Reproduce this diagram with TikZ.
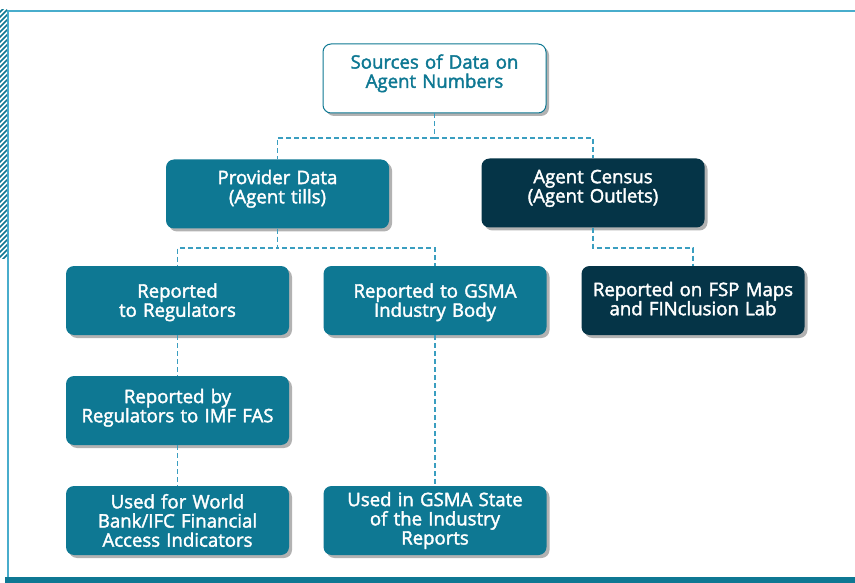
\documentclass[tikz,border=0pt]{standalone}
\usepackage{fontspec}
\setmainfont{Open Sans}[FakeBold=2]
\usetikzlibrary{shadows}
\definecolor{tealbox}{HTML}{0E7893}
\definecolor{navybox}{HTML}{053447}
\definecolor{linkblue}{HTML}{3A9EC0}
\definecolor{framecol}{HTML}{48ADCC}
\tikzset{
  box/.style={rounded corners=8pt, minimum width=223pt, minimum height=69pt,
    text width=220pt, align=center, inner sep=0pt,
    font=\fontsize{18.6}{19.2}\selectfont,
    drop shadow={shadow xshift=3pt, shadow yshift=-3pt, fill=black!30, opacity=1}},
  raised/.style={text depth=#1},
  tealnode/.style={box, fill=tealbox, text=white},
  navynode/.style={box, fill=navybox, text=white},
  rootnode/.style={box, fill=white, draw=tealbox, line width=1pt, text=tealbox},
  conn/.style={color=linkblue, line width=1.2pt, dash pattern=on 5pt off 3pt},
}
\begin{document}
\begin{tikzpicture}[x=1pt, y=-1pt]
  \useasboundingbox (0,0) rectangle (855,583);
  % page frame
  \draw[framecol, line width=1.5pt] (8,577) -- (8,11) -- (855,11);
  \begin{scope}
    \clip (0,10) rectangle (7,258);
    \foreach \i in {0,5,...,275}
      \draw[tealbox, line width=1.7pt] (-2,\i+9) -- (9,\i-2);
  \end{scope}
  \fill[tealbox] (5,577) rectangle (855,583);

  % boxes
  \node[rootnode, raised=34pt] (root) at (434.5,78.5) {Sources of Data on\\Agent Numbers};
  \node[tealnode, raised=34pt] (prov) at (277.5,194) {Provider Data\\(Agent tills)};
  \node[navynode, raised=33pt] (census) at (593,193) {Agent Census\\(Agent Outlets)};
  \node[tealnode, raised=20pt] (toreg) at (177.5,300.5) {Reported\\to Regulators};
  \node[tealnode, raised=20pt] (togsma) at (435,300.5) {Reported to GSMA\\Industry Body};
  \node[navynode, raised=23pt] (fsp) at (693,300.5) {Reported on FSP Maps\\and FINclusion Lab};
  \node[tealnode, raised=29pt] (imf) at (177.5,410.5) {Reported by\\Regulators to IMF FAS};
  \node[tealnode] (wb) at (177.5,520.5) {Used for World\\Bank/IFC Financial\\Access Indicators};
  \node[tealnode] (state) at (435,520.5) {Used in GSMA State\\of the Industry\\Reports};

  % connectors
  \draw[conn] (root.south) -- (root.south |- 0,138) -| (prov.north);
  \draw[conn] (root.south) -- (root.south |- 0,138) -| (census.north);
  \draw[conn] (prov.south) -- (prov.south |- 0,248) -| (toreg.north);
  \draw[conn] (prov.south) -- (prov.south |- 0,248) -| (togsma.north);
  \draw[conn] (census.south) -- (census.south |- 0,248) -| (fsp.north);
  \draw[conn] (toreg.south) -- (imf.north);
  \draw[conn] (imf.south) -- (wb.north);
  \draw[conn] (togsma.south) -- (state.north);
\end{tikzpicture}
\end{document}
